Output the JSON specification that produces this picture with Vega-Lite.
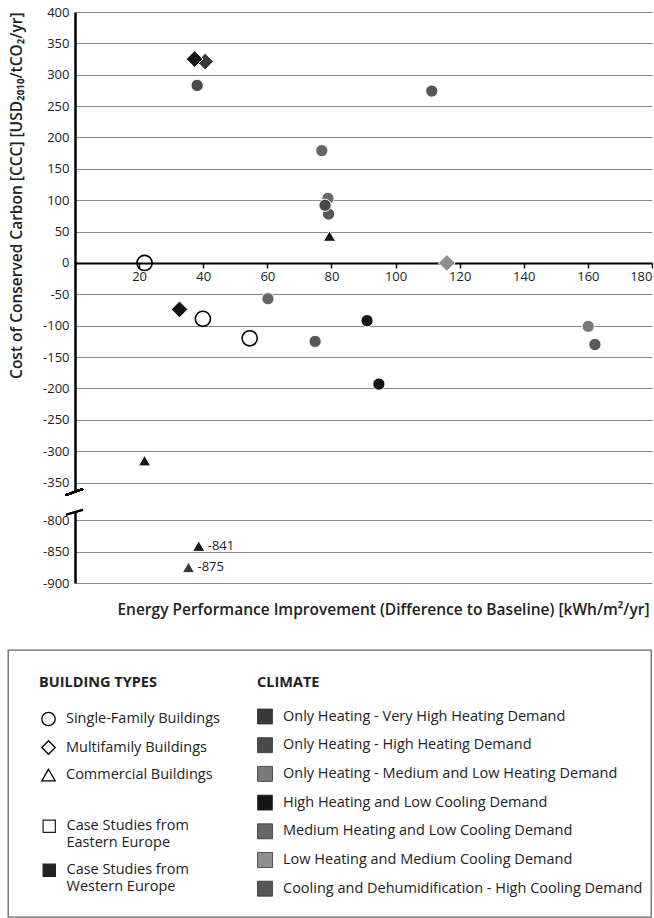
{
  "$schema": "https://vega.github.io/schema/vega-lite/v6.json",
  "padding": {"left": 7, "top": 6, "right": 0, "bottom": 0},
  "background": "white",
  "config": {
    "view": {"stroke": null},
    "font": "Open Sans",
    "axis": {"labelFont": "Open Sans", "labelFontSize": 13, "labelColor": "#222", "titleFont": "Open Sans", "titleFontSize": 15.5, "titleFontWeight": 600, "titleColor": "#222", "labelOverlap": false},
    "legend": {"labelFont": "Open Sans", "labelFontSize": 14.5, "labelColor": "#222", "titleFont": "Open Sans", "titleFontSize": 14.5, "titleFontWeight": "bold", "titleColor": "#222", "labelLimit": 0, "padding": 0}
  },
  "datasets": {
    "points": [
      {"epi": 40.6, "ccc": 321, "type": "Multifamily Buildings", "climate": "Only Heating - Very High Heating Demand", "region": "Western Europe"},
      {"epi": 37.3, "ccc": 325, "type": "Multifamily Buildings", "climate": "High Heating and Low Cooling Demand", "region": "Western Europe"},
      {"epi": 38.1, "ccc": 283, "type": "Single-Family Buildings", "climate": "Only Heating -  High Heating Demand", "region": "Western Europe"},
      {"epi": 21.7, "ccc": 0, "type": "Single-Family Buildings", "climate": null, "region": "Eastern Europe"},
      {"epi": 77, "ccc": 179, "type": "Single-Family Buildings", "climate": "Medium Heating and Low Cooling Demand", "region": "Western Europe"},
      {"epi": 78.9, "ccc": 103, "type": "Single-Family Buildings", "climate": "Medium Heating and Low Cooling Demand", "region": "Western Europe"},
      {"epi": 79.1, "ccc": 78, "type": "Single-Family Buildings", "climate": "Cooling and Dehumidification - High Cooling Demand", "region": "Western Europe"},
      {"epi": 78, "ccc": 92, "type": "Single-Family Buildings", "climate": "Only Heating -  High Heating Demand", "region": "Western Europe"},
      {"epi": 79.4, "ccc": 43, "type": "Commercial Buildings", "climate": "High Heating and Low Cooling Demand", "region": "Western Europe"},
      {"epi": 111.3, "ccc": 274, "type": "Single-Family Buildings", "climate": "Cooling and Dehumidification - High Cooling Demand", "region": "Western Europe"},
      {"epi": 116, "ccc": 0, "type": "Multifamily Buildings", "climate": "Low Heating and Medium Cooling Demand", "region": "Western Europe"},
      {"epi": 32.6, "ccc": -74, "type": "Multifamily Buildings", "climate": "High Heating and Low Cooling Demand", "region": "Western Europe"},
      {"epi": 39.9, "ccc": -89, "type": "Single-Family Buildings", "climate": null, "region": "Eastern Europe"},
      {"epi": 54.5, "ccc": -120, "type": "Single-Family Buildings", "climate": null, "region": "Eastern Europe"},
      {"epi": 60.2, "ccc": -57, "type": "Single-Family Buildings", "climate": "Medium Heating and Low Cooling Demand", "region": "Western Europe"},
      {"epi": 74.9, "ccc": -125, "type": "Single-Family Buildings", "climate": "Cooling and Dehumidification - High Cooling Demand", "region": "Western Europe"},
      {"epi": 91.1, "ccc": -92, "type": "Single-Family Buildings", "climate": "High Heating and Low Cooling Demand", "region": "Western Europe"},
      {"epi": 94.8, "ccc": -193, "type": "Single-Family Buildings", "climate": "High Heating and Low Cooling Demand", "region": "Western Europe"},
      {"epi": 160.1, "ccc": -101, "type": "Single-Family Buildings", "climate": "Only Heating - Medium and Low Heating Demand", "region": "Western Europe"},
      {"epi": 162.2, "ccc": -130, "type": "Single-Family Buildings", "climate": "Cooling and Dehumidification - High Cooling Demand", "region": "Western Europe"},
      {"epi": 21.7, "ccc": -315, "type": "Commercial Buildings", "climate": "High Heating and Low Cooling Demand", "region": "Western Europe"},
      {"epi": 38.6, "ccc": -841, "type": "Commercial Buildings", "climate": "High Heating and Low Cooling Demand", "region": "Western Europe"},
      {"epi": 35.4, "ccc": -875, "type": "Commercial Buildings", "climate": "Only Heating - Very High Heating Demand", "region": "Western Europe"}
    ]
  },
  "resolve": {"scale": {"fill": "shared", "shape": "shared", "color": "shared"}},
  "spacing": 31,
  "vconcat": [
    {
      "columns": 2,
      "align": "each",
      "spacing": 0,
      "resolve": {"scale": {"fill": "shared", "shape": "shared", "fillOpacity": "shared"}},
      "concat": [
        {
          "width": 1,
          "height": 1,
          "data": {"values": [{}]},
          "mark": {"type": "point", "opacity": 0, "size": 0},
          "encoding": {}
        },
        {
          "spacing": 11,
          "resolve": {"scale": {"fill": "shared", "shape": "shared", "fillOpacity": "shared"}},
          "vconcat": [
            {
              "width": 577,
              "height": 480,
              "data": {"name": "points"},
              "transform": [{"filter": "datum.ccc > -400"}],
              "layer": [
                {
                  "mark": {"type": "point", "filled": true, "opacity": 1},
                  "encoding": {
                    "x": {"field": "epi", "type": "quantitative", "scale": {"domain": [0, 180], "nice": false, "zero": false},
                      "axis": {"orient": "bottom", "offset": -229, "title": null, "values": [20, 40, 60, 80, 100, 120, 140, 160, 180], "tickCount": 50, "grid": false, "domainColor": "black", "domainWidth": 2.2, "tickColor": "black", "tickWidth": 1.5, "tickSize": 5, "labelPadding": 2, "labelOverlap": false}},
                    "y": {"field": "ccc", "type": "quantitative", "scale": {"domain": [-365, 400], "nice": false, "zero": false},
                      "axis": {"title": "Cost of Conserved Carbon [CCC] [USD₂₀₁₀/tCO₂/yr]", "titleAnchor": "end", "titlePadding": 18, "values": [-350, -300, -250, -200, -150, -100, -50, 0, 50, 100, 150, 200, 250, 300, 350, 400], "tickCount": 50, "labelExpr": "'' + datum.value", "labelOverlap": false, "grid": true, "gridColor": "#8a8a8a", "gridWidth": 1.2, "domainColor": "black", "domainWidth": 2.5, "ticks": false, "tickSize": 0, "labelPadding": 6}},
                    "shape": {"field": "type", "type": "nominal",
                      "scale": {"domain": ["Single-Family Buildings", "Multifamily Buildings", "Commercial Buildings"], "range": ["circle", "diamond", "triangle-up"]},
                      "legend": {"title": "BUILDING TYPES", "orient": "none", "legendX": 31, "legendY": 664, "symbolFillColor": "white", "symbolStrokeColor": "black", "symbolStrokeWidth": 1.3, "symbolSize": 180, "rowPadding": 9.5, "titlePadding": 21, "labelOffset": 10, "symbolOffset": 2}},
                    "size": {"condition": [{"test": "datum.region === 'Eastern Europe'", "value": 230}, {"test": "datum.type === 'Multifamily Buildings'", "value": 280}, {"test": "datum.type === 'Commercial Buildings'", "value": 150}], "value": 150},
                    "fill": {"field": "climate", "type": "nominal",
                      "scale": {"domain": ["Only Heating - Very High Heating Demand", "Only Heating -  High Heating Demand", "Only Heating - Medium and Low Heating Demand", "High Heating and Low Cooling Demand", "Medium Heating and Low Cooling Demand", "Low Heating and Medium Cooling Demand", "Cooling and Dehumidification - High Cooling Demand"],
                        "range": ["#3a3a3a", "#4a4a4a", "#7a7a7a", "#161616", "#666666", "#8e8e8e", "#575757"]},
                      "legend": {"title": "CLIMATE", "orient": "none", "legendX": 249, "legendY": 664, "symbolType": "square", "symbolSize": 225, "symbolStrokeColor": "#333", "symbolStrokeWidth": 0.8, "rowPadding": 8.7, "titlePadding": 18, "labelOffset": 10}},
                    "fillOpacity": {"field": "region", "type": "ordinal",
                      "scale": {"type": "point", "padding": 0, "domain": ["Eastern Europe", "Western Europe"], "range": [0, 1]}, "legend": null},
                    "stroke": {"condition": {"test": "datum.region === 'Eastern Europe'", "value": "black"}, "value": "white"},
                    "strokeWidth": {"condition": {"test": "datum.region === 'Eastern Europe'", "value": 1.6}, "value": 1}
                  }
                },
                {
                  "mark": {"type": "rule", "clip": false, "strokeWidth": 2, "color": "black"},
                  "encoding": {"x": {"datum": -2.9}, "x2": {"datum": 2.5}, "y": {"datum": -370}, "y2": {"datum": -360}}
                }
              ]
            },
            {
              "width": 577,
              "height": 72,
              "data": {"name": "points"},
              "transform": [{"filter": "datum.ccc < -400"}],
              "layer": [
                {
                  "mark": {"type": "point", "filled": true, "opacity": 1},
                  "encoding": {
                    "x": {"field": "epi", "type": "quantitative", "scale": {"domain": [0, 180], "nice": false, "zero": false},
                      "axis": {"title": "Energy Performance Improvement (Difference to Baseline) [kWh/m²/yr]", "titleX": 574, "titleAlign": "right", "titlePadding": 19.5, "labels": false, "ticks": false, "domain": false, "grid": false}},
                    "y": {"field": "ccc", "type": "quantitative", "scale": {"domain": [-900, -785], "nice": false, "zero": false},
                      "axis": {"title": "C", "titleOpacity": 0, "titlePadding": 18, "values": [-900, -850, -800], "tickCount": 50, "labelExpr": "'' + datum.value", "labelOverlap": false, "grid": true, "gridColor": "#8a8a8a", "gridWidth": 1.2, "domainColor": "black", "domainWidth": 2.5, "ticks": false, "tickSize": 0, "labelPadding": 6}},
                    "shape": {"field": "type", "type": "nominal",
                      "scale": {"domain": ["Single-Family Buildings", "Multifamily Buildings", "Commercial Buildings"], "range": ["circle", "diamond", "triangle-up"]},
                      "legend": {"title": "BUILDING TYPES", "orient": "none", "legendX": 31, "legendY": 664, "symbolFillColor": "white", "symbolStrokeColor": "black", "symbolStrokeWidth": 1.3, "symbolSize": 180, "rowPadding": 9.5, "titlePadding": 21, "labelOffset": 10, "symbolOffset": 2}},
                    "size": {"condition": [{"test": "datum.region === 'Eastern Europe'", "value": 230}, {"test": "datum.type === 'Multifamily Buildings'", "value": 280}, {"test": "datum.type === 'Commercial Buildings'", "value": 150}], "value": 150},
                    "fill": {"field": "climate", "type": "nominal",
                      "scale": {"domain": ["Only Heating - Very High Heating Demand", "Only Heating -  High Heating Demand", "Only Heating - Medium and Low Heating Demand", "High Heating and Low Cooling Demand", "Medium Heating and Low Cooling Demand", "Low Heating and Medium Cooling Demand", "Cooling and Dehumidification - High Cooling Demand"],
                        "range": ["#3a3a3a", "#4a4a4a", "#7a7a7a", "#161616", "#666666", "#8e8e8e", "#575757"]},
                      "legend": {"title": "CLIMATE", "orient": "none", "legendX": 249, "legendY": 664, "symbolType": "square", "symbolSize": 225, "symbolStrokeColor": "#333", "symbolStrokeWidth": 0.8, "rowPadding": 8.7, "titlePadding": 18, "labelOffset": 10}},
                    "fillOpacity": {"field": "region", "type": "ordinal",
                      "scale": {"type": "point", "padding": 0, "domain": ["Eastern Europe", "Western Europe"], "range": [0, 1]}, "legend": null},
                    "stroke": {"condition": {"test": "datum.region === 'Eastern Europe'", "value": "black"}, "value": "white"},
                    "strokeWidth": {"condition": {"test": "datum.region === 'Eastern Europe'", "value": 1.6}, "value": 1}
                  }
                },
                {
                  "mark": {"type": "text", "align": "left", "baseline": "middle", "dx": 9, "fontSize": 13, "font": "Open Sans", "color": "#222"},
                  "encoding": {
                    "x": {"field": "epi", "type": "quantitative"},
                    "y": {"field": "ccc", "type": "quantitative"},
                    "text": {"field": "ccc", "type": "nominal"}
                  }
                },
                {
                  "mark": {"type": "rule", "clip": false, "strokeWidth": 2, "color": "black"},
                  "encoding": {"x": {"datum": -2.8}, "x2": {"datum": 2.5}, "y": {"datum": -791}, "y2": {"datum": -783}}
                }
              ]
            }
          ]
        }
      ]
    },
    {
      "width": 643,
      "height": 267,
      "view": {"stroke": "#666", "strokeWidth": 1.3},
      "data": {"name": "points"},
      "mark": {"type": "point", "filled": true, "opacity": 0},
      "encoding": {
        "color": {"field": "region", "type": "nominal",
          "scale": {"domain": ["Eastern Europe", "Western Europe"], "range": ["white", "#222"]},
          "legend": {"title": null, "orient": "none", "legendX": 34, "legendY": 807, "symbolType": "square", "symbolSize": 150, "symbolOpacity": 1, "symbolStrokeColor": "#222", "symbolStrokeWidth": 1.2, "labelExpr": "['Case Studies from', datum.label]", "rowPadding": 11, "labelOffset": 10}}
      }
    }
  ]
}
